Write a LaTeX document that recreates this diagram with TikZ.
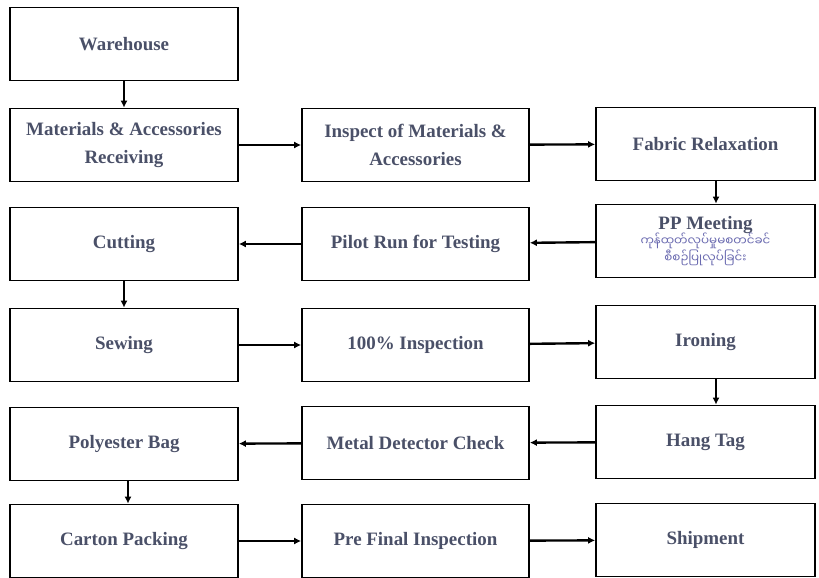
\documentclass[tikz,border=0pt]{standalone}
\usepackage{fontspec}
\setmainfont{Liberation Serif}
\newfontfamily\myanmarfont[Script=Myanmar]{Noto Sans Myanmar UI}
\usetikzlibrary{arrows.meta}
\definecolor{txt}{HTML}{4A5068}
\definecolor{mya}{HTML}{6A6AB0}
\newcommand{\mya}[1]{{\myanmarfont\mdseries\color{mya}\fontsize{12}{14}\selectfont #1}}
\tikzset{
  procbox/.style={draw=black, line width=1.7pt, fill=white, minimum height=73bp,
    text=txt, font=\bfseries\fontsize{19}{28}\selectfont, align=center, inner sep=2pt},
  wA/.style={procbox, minimum width=228bp},
  wB/.style={procbox, minimum width=227bp},
  wC/.style={procbox, minimum width=219bp},
  flow/.style={line width=2.4pt, -{Latex[length=7pt,width=7pt]}}
}
\begin{document}
\begin{tikzpicture}[x=1bp,y=-1bp]
\useasboundingbox (0,0) rectangle (819,578);
\fill[white] (0,0) rectangle (819,578);
% row 1
\node[wA] (wh) at (124,44) {Warehouse};
% row 2
\node[wA] (mat) at (124,145) {Materials \& Accessories\\Receiving};
\node[wB] (insp) at (415.5,145) {Inspect of Materials \&\\Accessories};
\node[wC] (fab) at (705.5,144) {Fabric Relaxation};
% row 3
\node[wA] (cut) at (124,244) {Cutting};
\node[wB] (pilot) at (415.5,244) {Pilot Run for Testing};
\node[wC] (pp) at (705.5,241) {PP Meeting\\[-11pt]
  \mya{ကုန်ထုတ်လုပ်မှုမစတင်ခင်}\\[-11pt]\mya{စီစဉ်ပြုလုပ်ခြင်း}};
% row 4
\node[wA] (sew) at (124,345) {Sewing};
\node[wB] (insp100) at (415.5,345) {100\% Inspection};
\node[wC] (iron) at (705.5,342) {Ironing};
% row 5
\node[wA] (poly) at (124,444) {Polyester Bag};
\node[wB] (metal) at (415.5,443) {Metal Detector Check};
\node[wC] (hang) at (705.5,442) {Hang Tag};
% row 6
\node[wA] (carton) at (124,541) {Carton Packing};
\node[wB] (pre) at (415.5,541) {Pre Final Inspection};
\node[wC] (ship) at (705.5,540) {Shipment};
% connectors
\draw[flow] (wh) -- (mat);
\draw[flow] (mat) -- (insp);
\draw[flow] (insp) -- (fab);
\draw[flow] (fab.south -| 716,0) -- (pp.north -| 716,0);
\draw[flow] (pp) -- (pilot);
\draw[flow] (pilot) -- (cut);
\draw[flow] (cut) -- (sew);
\draw[flow] (sew) -- (insp100);
\draw[flow] (insp100) -- (iron);
\draw[flow] (iron.south -| 716,0) -- (hang.north -| 716,0);
\draw[flow] (hang) -- (metal);
\draw[flow] (metal) -- (poly);
\draw[flow] (poly.south -| 128,0) -- (carton.north -| 128,0);
\draw[flow] (carton) -- (pre);
\draw[flow] (pre) -- (ship);
\end{tikzpicture}
\end{document}
